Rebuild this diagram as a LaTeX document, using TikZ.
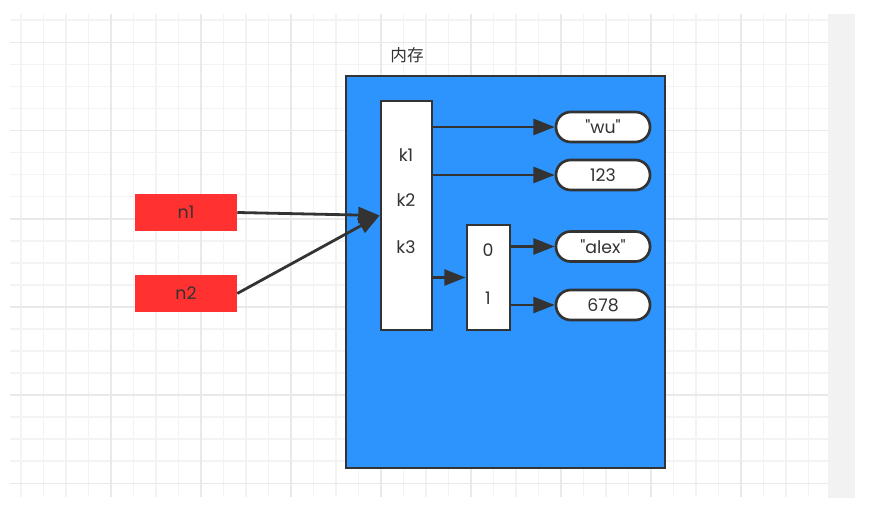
\documentclass[tikz,border=0pt]{standalone}
\usepackage{fontspec}
\setmainfont{Poppins}[Ligatures=TeXOff]
\newfontfamily\cjk{Noto Sans CJK SC}
\usetikzlibrary{arrows.meta}
\definecolor{memblue}{HTML}{2C94FC}
\definecolor{varred}{HTML}{FF3131}
\definecolor{edge}{HTML}{333333}
\definecolor{gridminor}{HTML}{F3F3F3}
\definecolor{gridmajor}{HTML}{E9E9E9}
\definecolor{strip}{HTML}{F2F2F2}
\newcommand{\dq}{\symbol{34}}
\tikzset{
  box/.style={draw=edge, line width=2.1pt, fill=white, inner sep=0pt},
  membox/.style={draw=edge, line width=2.2pt, fill=memblue, inner sep=0pt,
    minimum width=239.25pt, minimum height=294pt},
  valbox/.style={draw=edge, line width=2pt, fill=white, rounded corners=11pt,
    minimum width=70.5pt, minimum height=22.5pt, inner sep=0pt, font=\fontsize{13pt}{15pt}\selectfont, text=edge},
  varbox/.style={fill=varred, inner sep=0pt, minimum width=76.5pt, minimum height=27.75pt,
    font=\fontsize{13pt}{15pt}\selectfont, text=edge},
  lbl/.style={inner sep=0pt, font=\fontsize{13pt}{15pt}\selectfont, text=edge},
  conn/.style={draw=edge, line width=2.1pt, -{Triangle[length=16pt,width=12pt]}},
}
\begin{document}
\begin{tikzpicture}[x=0.75pt,y=-0.75pt]
\useasboundingbox (0,0) rectangle (869,530);
\fill[white] (0,0) rectangle (869,530);
% grid
\foreach \k in {0,...,35} {
  \pgfmathsetmacro\xx{21+22.5*\k}
  \draw[gridminor, line width=1.2pt] (\xx,14) -- (\xx,497);
}
\foreach \k in {0,...,21} {
  \pgfmathsetmacro\yy{20.3+22.05*\k}
  \draw[gridminor, line width=1.2pt] (10,\yy) -- (828,\yy);
}
\foreach \k in {1,...,8} {
  \pgfmathsetmacro\xx{21+90*\k}
  \draw[gridmajor, line width=1.2pt] (\xx,14) -- (\xx,497);
}
\foreach \k in {0,...,5} {
  \pgfmathsetmacro\yy{42.35+88.2*\k}
  \draw[gridmajor, line width=1.2pt] (10,\yy) -- (828,\yy);
}
\fill[strip] (828,14) rectangle (855,498);

% memory
\node[membox] (mem) at (505.5,272) {};
\node[lbl, font=\cjk\fontsize{12.5pt}{14pt}\selectfont] (memlbl) at (407,55) {内存};

% dict box
\node[box, minimum width=38.25pt, minimum height=171.75pt] (kbox) at (406.5,215.5) {};
\node[lbl] (k1) at (406,155) {k1};
\node[lbl] (k2) at (406,200) {k2};
\node[lbl] (k3) at (406,247) {k3};

% list box
\node[box, minimum width=32.25pt, minimum height=78.75pt] (lst) at (488.5,277.5) {};
\node[lbl] (i0) at (488,250) {0};
\node[lbl] (i1) at (488,298) {1};

% values
\node[valbox] (wu) at (603,127) {\dq wu\dq};
\node[valbox] (v123) at (603,175) {123};
\node[valbox] (alex) at (603,246.5) {\dq alex\dq};
\node[valbox] (v678) at (603,305) {678};

% variables
\node[varbox] (n1) at (186,212.5) {n1};
\node[varbox] (n2) at (186,293.5) {n2};

% connectors
\draw[conn] (n1.east) -- (kbox.west);
\draw[conn] (n2.east) -- (kbox.west);
\draw[conn] (kbox.east |- wu.west) -- (wu.west);
\draw[conn] (kbox.east |- v123.west) -- (v123.west);
\draw[conn] (kbox.east |- lst.west) -- (lst.west);
\draw[conn] (lst.east |- alex.west) -- (alex.west);
\draw[conn] (lst.east |- v678.west) -- (v678.west);
\end{tikzpicture}
\end{document}
